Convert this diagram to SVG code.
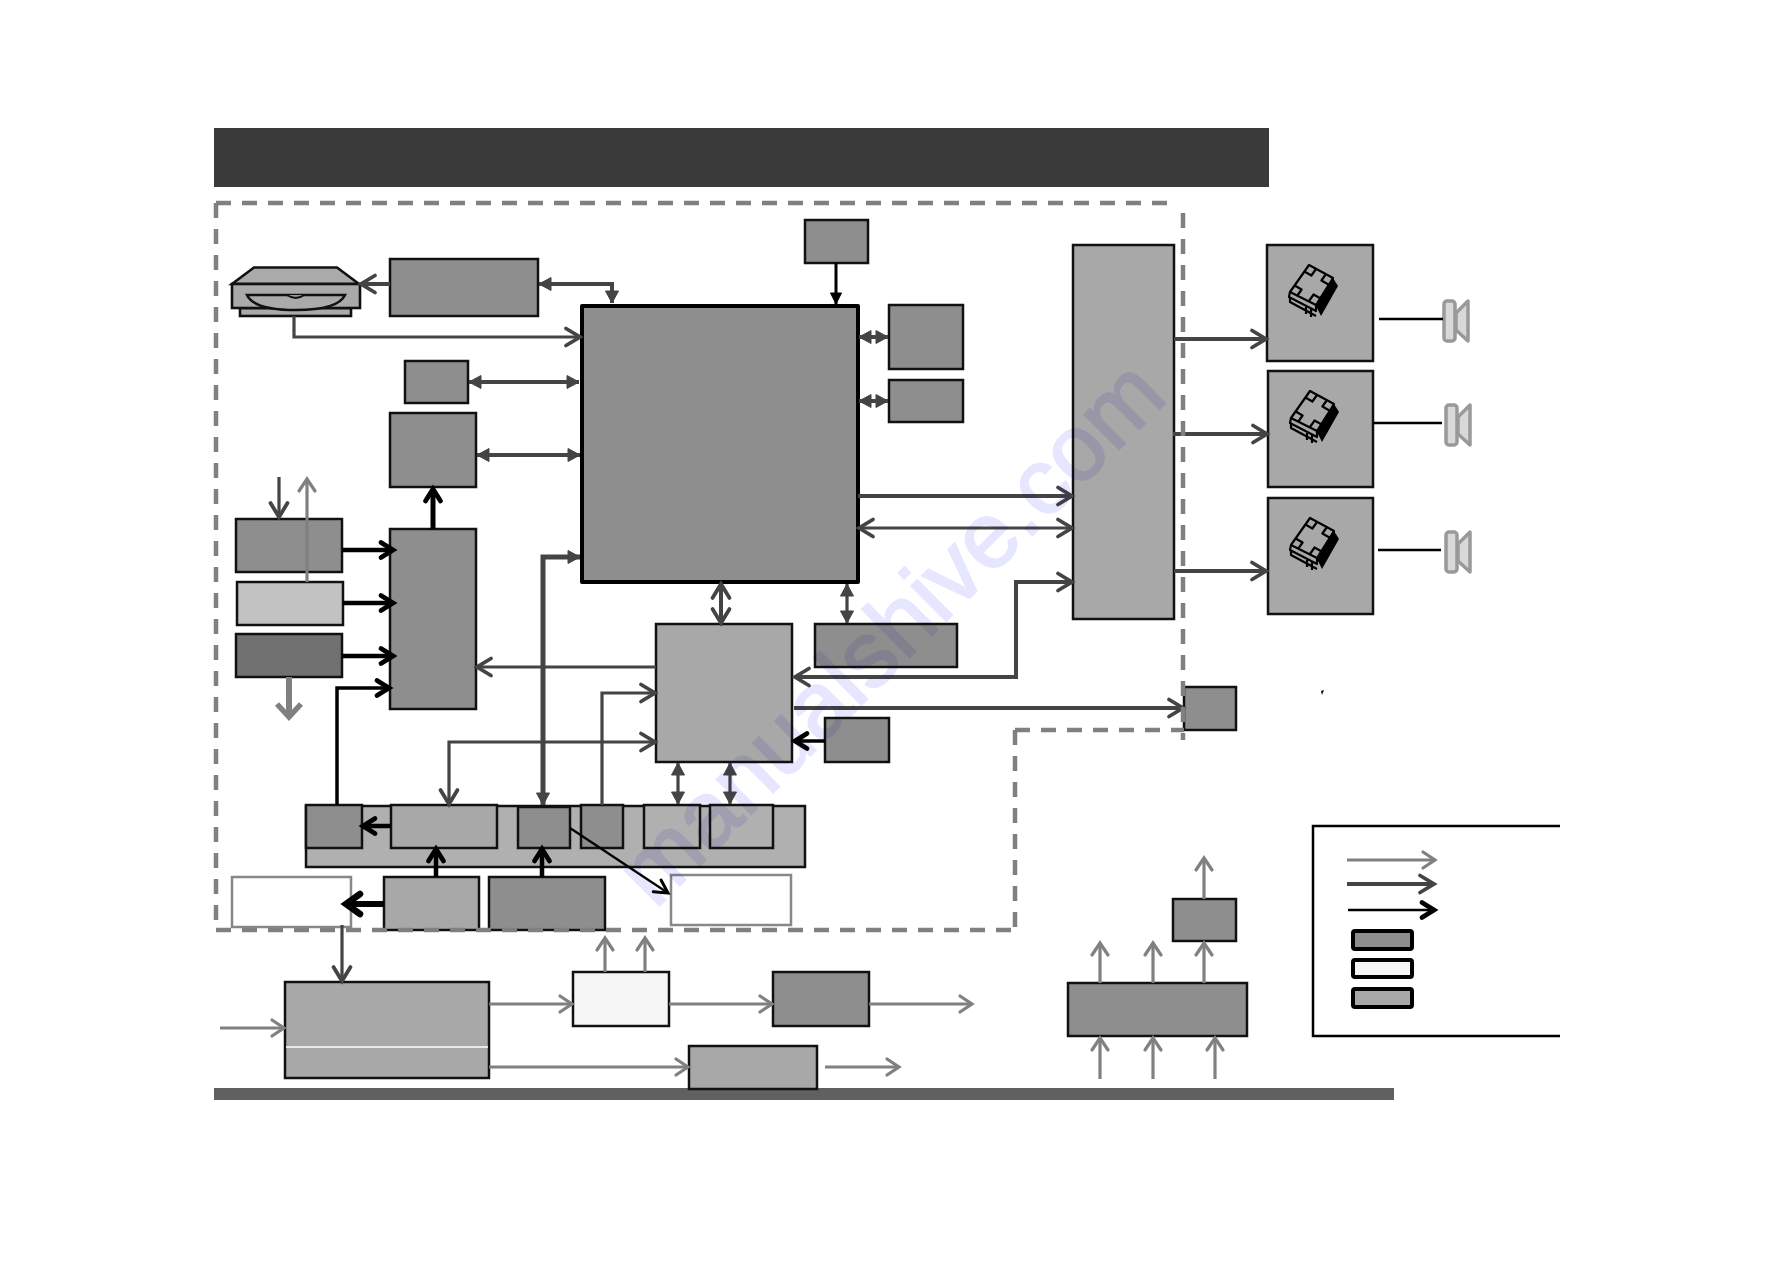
<svg xmlns="http://www.w3.org/2000/svg" xmlns:xlink="http://www.w3.org/1999/xlink" width="1782" height="1263" viewBox="0 0 1782 1263">
<style>
.b{stroke:#111;stroke-width:2.5}
.m{fill:#8e8e8e}.l{fill:#a8a8a8}.s{fill:#b0b0b0}.w{fill:#f6f6f6}.wb{fill:#fff;stroke:#888;stroke-width:2.5}
.c{fill:none;stroke-linejoin:miter}
.g3{stroke:#808080;stroke-width:3.2}
.d3{stroke:#444;stroke-width:3.2}
.d4{stroke:#444;stroke-width:4}
.k3{stroke:#000;stroke-width:2.6}
.k4{stroke:#000;stroke-width:4.5}
.dash{fill:none;stroke:#808080;stroke-width:4.5;stroke-dasharray:15 11}
.ic{fill:none;stroke:#000;stroke-width:2.2;stroke-linejoin:round}
.sp{fill:#d8d8d8;stroke:#999;stroke-width:3.5;stroke-linejoin:round}
.wm{font-family:"Liberation Sans",Arial,sans-serif;font-size:93px;fill:#e6e6ff;stroke:#e6e6ff;stroke-width:2;mix-blend-mode:multiply}
</style>
<defs>
<marker id="og" markerUnits="userSpaceOnUse" markerWidth="30" markerHeight="30" viewBox="-20 -15 30 30" refX="0" refY="0" orient="auto-start-reverse" overflow="visible"><path d="M-12,-8 L0,0 L-12,8" fill="none" stroke="#808080" stroke-width="3.2" stroke-linecap="round"/></marker>
<marker id="od" markerUnits="userSpaceOnUse" markerWidth="30" markerHeight="30" viewBox="-20 -15 30 30" refX="0" refY="0" orient="auto-start-reverse" overflow="visible"><path d="M-14,-8.500 L0,0 L-14,8.500" fill="none" stroke="#444" stroke-width="3.8" stroke-linecap="round"/></marker>
<marker id="ok" markerUnits="userSpaceOnUse" markerWidth="30" markerHeight="30" viewBox="-20 -15 30 30" refX="0" refY="0" orient="auto-start-reverse" overflow="visible"><path d="M-13,-7 L0,0 L-13,7" fill="none" stroke="#000" stroke-width="3" stroke-linecap="round"/></marker>
<marker id="okb" markerUnits="userSpaceOnUse" markerWidth="30" markerHeight="30" viewBox="-20 -15 30 30" refX="0" refY="0" orient="auto-start-reverse" overflow="visible"><path d="M-12,-7.500 L0,0 L-12,7.500" fill="none" stroke="#000" stroke-width="4.8" stroke-linecap="round"/></marker>
<marker id="okx" markerUnits="userSpaceOnUse" markerWidth="40" markerHeight="40" viewBox="-25 -20 40 40" refX="0" refY="0" orient="auto-start-reverse" overflow="visible"><path d="M-14,-10 L0,0 L-14,10" fill="none" stroke="#000" stroke-width="6.500" stroke-linecap="round"/></marker>
<marker id="ogx" markerUnits="userSpaceOnUse" markerWidth="40" markerHeight="40" viewBox="-25 -20 40 40" refX="0" refY="0" orient="auto-start-reverse" overflow="visible"><path d="M-12,-10 L0,3 L12,-10" transform="rotate(-90)" fill="none" stroke="#808080" stroke-width="5.500"/></marker>
<marker id="fd" markerUnits="userSpaceOnUse" markerWidth="30" markerHeight="30" viewBox="-20 -15 30 30" refX="0" refY="0" orient="auto-start-reverse" overflow="visible"><path d="M-12,-6.500 L0,0 L-12,6.500 Z" fill="#444" stroke="#444"/></marker>
<marker id="fk" markerUnits="userSpaceOnUse" markerWidth="30" markerHeight="30" viewBox="-20 -15 30 30" refX="0" refY="0" orient="auto-start-reverse" overflow="visible"><path d="M-11,-5.500 L0,0 L-11,5.500 Z" fill="#000" stroke="#000"/></marker>
<g id="chipicon">
<path d="M1333,278 L1338,286 L1321,316 L1316,306 Z" fill="#000"/>
<path class="ic" d="M1309,265 L1333,278 L1316,305 L1290,292 Z"/>
<path class="ic" d="M1316,269 L1311.400,275.500 L1304.400,271.500 M1326,274 L1321.400,280.500 L1328.400,284.500 M1297,296 L1301.600,289.500 L1294.600,285.500 M1309,301 L1313.600,294.500 L1320.600,298.500"/>
<path class="ic" d="M1290,292 L1289,297 L1316,311 L1316,305 M1290,298 L1290,302 L1316,316 M1306,307 L1306,314 M1311,309 L1311,317"/>
</g>
<g id="speaker">
<rect class="sp" x="1444" y="301" width="11" height="40" rx="3"/>
<path class="sp" d="M1456,313 L1468,301 L1468,341 L1456,330 Z"/>
</g>
</defs>
<rect width="1782" height="1263" fill="#fff"/>
<g id="header"><rect x="214" y="128" width="1055" height="59" fill="#3a3a3a"/></g>
<g id="footer"><rect x="214" y="1088" width="1180" height="12" fill="#606060"/></g>

<g id="disc-drive" fill="#aaa" stroke="#111" stroke-width="2.6">
<path d="M254,267.500 L337,267.500 L359,284 L232,284 Z"/>
<rect x="240" y="308" width="111" height="8"/>
<rect x="232" y="284" width="128" height="24"/>
<path d="M247,295 L345,295 Q338,310 296,310 Q254,310 247,295 Z"/>
<path d="M287,295 Q296,301 304,295" fill="#999" stroke-width="2"/>
</g>
<g id="driver"><rect class="b m" x="390" y="259" width="148" height="57"/></g>
<g id="main-chip"><rect class="m" x="582" y="306" width="276" height="276" stroke="#000" stroke-width="4" stroke-linejoin="round"/></g>
<g id="box-b"><rect class="b m" x="405" y="361" width="63" height="42"/></g>
<g id="box-c"><rect class="b m" x="390" y="413" width="86" height="74"/></g>
<g id="box-d"><rect class="b m" x="390" y="529" width="86" height="180"/></g>
<g id="box-e"><rect class="b m" x="236" y="519" width="106" height="53"/></g>
<g id="box-f"><rect class="b" fill="#c2c2c2" x="237" y="582" width="106" height="43"/></g>
<g id="box-g"><rect class="b" fill="#717171" x="236" y="634" width="106" height="43"/></g>
<g id="box-u"><rect class="b m" x="805" y="220" width="63" height="43"/></g>
<g id="box-v"><rect class="b m" x="889" y="305" width="74" height="64"/></g>
<g id="box-w"><rect class="b m" x="889" y="380" width="74" height="42"/></g>
<g id="box-x"><rect class="b l" x="1073" y="245" width="101" height="374"/></g>
<g id="amp-1"><rect class="b l" x="1267" y="245" width="106" height="116"/><use xlink:href="#chipicon"/></g>
<g id="amp-2"><rect class="b l" x="1268" y="371" width="105" height="116"/><use xlink:href="#chipicon" x="1" y="126"/></g>
<g id="amp-3"><rect class="b l" x="1268" y="498" width="105" height="116"/><use xlink:href="#chipicon" x="1" y="253"/></g>
<g id="speaker-1"><use xlink:href="#speaker"/></g>
<g id="speaker-2"><use xlink:href="#speaker" x="2" y="104"/></g>
<g id="speaker-3"><use xlink:href="#speaker" x="2" y="231"/></g>
<g id="box-p"><rect class="b l" x="656" y="624" width="136" height="138"/></g>
<g id="box-q"><rect class="b m" x="815" y="624" width="142" height="43"/></g>
<g id="box-r"><rect class="b m" x="1184" y="687" width="52" height="43"/></g>
<g id="box-t"><rect class="b m" x="825" y="718" width="64" height="44"/></g>
<g id="strip"><rect class="b s" x="306" y="806" width="499" height="61"/></g>
<g id="s1"><rect class="b m" x="306" y="805" width="56" height="43"/></g>
<g id="s2"><rect class="b l" x="391" y="805" width="106" height="43"/></g>
<g id="s3"><rect class="b m" x="518" y="807" width="52" height="41"/></g>
<g id="s4"><rect class="b m" x="581" y="805" width="42" height="43"/></g>
<g id="s5"><rect class="b s" x="644" y="805" width="56" height="43"/></g>
<g id="s6"><rect class="b s" x="710" y="805" width="63" height="43"/></g>
<g id="box-h"><rect class="b l" x="384" y="877" width="95" height="53"/></g>
<g id="box-i"><rect class="b m" x="489" y="877" width="116" height="53"/></g>
<g id="box-j"><rect class="wb" x="232" y="877" width="119" height="50"/></g>
<g id="box-k"><rect class="wb" x="671" y="875" width="120" height="50"/></g>
<g id="box-l"><rect class="b l" x="285" y="982" width="204" height="96"/><path d="M286,1047 H488" stroke="#fff" stroke-width="1.500"/></g>
<g id="box-m"><rect class="b w" x="573" y="972" width="96" height="54"/></g>
<g id="box-n"><rect class="b m" x="773" y="972" width="96" height="54"/></g>
<g id="box-o"><rect class="b l" x="689" y="1046" width="128" height="43"/></g>
<g id="box-y"><rect class="b m" x="1068" y="983" width="179" height="53"/></g>
<g id="box-z"><rect class="b m" x="1173" y="899" width="63" height="42"/></g>

<g id="connectors" class="c">
<path class="d4" marker-end="url(#od)" d="M390,284 H361"/>
<path class="d4" marker-start="url(#fd)" marker-end="url(#fd)" d="M539,284 H612 V303"/>
<path class="d3" marker-end="url(#od)" d="M294,316 V337 H580"/>
<path class="d4" marker-start="url(#fd)" marker-end="url(#fd)" d="M469,382 H579"/>
<path class="d4" marker-start="url(#fd)" marker-end="url(#fd)" d="M477,455 H580"/>
<path class="k4" style="stroke-width:5" marker-end="url(#okb)" d="M433,529 V489"/>
<path class="k4" marker-end="url(#okb)" d="M342,550 H393"/>
<path class="k4" marker-end="url(#okb)" d="M343,603 H393"/>
<path class="k4" marker-end="url(#okb)" d="M342,656 H393"/>
<path class="k3" style="stroke-width:3.500" marker-end="url(#okb)" d="M337,805 V688 H389"/>
<path class="d3" marker-end="url(#od)" d="M279,477 V517"/>
<path class="g3" marker-end="url(#og)" d="M307,582 V479"/>
<path style="stroke:#808080;stroke-width:6" marker-end="url(#ogx)" d="M289,677 V714"/>
<path class="d4" style="stroke-width:5" marker-start="url(#fd)" marker-end="url(#fd)" d="M580,557 H543 V805"/>
<path class="d4" marker-start="url(#od)" marker-end="url(#od)" d="M721,584 V623"/>
<path class="d3" marker-start="url(#fd)" marker-end="url(#fd)" d="M847,584 V623"/>
<path class="d3" marker-end="url(#od)" d="M656,667 H477"/>
<path class="d4" marker-start="url(#od)" marker-end="url(#od)" d="M795,677 H1016 V582 H1072"/>
<path class="d4" marker-end="url(#od)" d="M794,708 H1183"/>
<path class="k3" style="stroke-width:3.500" marker-end="url(#okb)" d="M825,741 H795"/>
<path class="d3" marker-start="url(#fd)" marker-end="url(#fd)" d="M678,763 V804"/>
<path class="d3" marker-start="url(#fd)" marker-end="url(#fd)" d="M730,763 V804"/>
<path class="d3" marker-end="url(#od)" d="M602,805 V693 H655"/>
<path class="d3" marker-start="url(#od)" marker-end="url(#od)" d="M449,804 V742 H655"/>
<path class="k3" style="stroke-width:3" marker-end="url(#fk)" d="M836,263 V304"/>
<path class="d4" marker-start="url(#fd)" marker-end="url(#fd)" d="M859,337 H888"/>
<path class="d4" marker-start="url(#fd)" marker-end="url(#fd)" d="M859,401 H888"/>
<path class="d4" marker-end="url(#od)" d="M858,496 H1072"/>
<path class="d3" marker-start="url(#od)" marker-end="url(#od)" d="M859,528 H1072"/>
<path class="d4" marker-end="url(#od)" d="M1174,339 H1266"/>
<path class="d4" marker-end="url(#od)" d="M1173,434 H1267"/>
<path class="d4" marker-end="url(#od)" d="M1174,571 H1266"/>
<path class="k3" d="M1379,319 H1443"/>
<path class="k3" d="M1373,423 H1442"/>
<path class="k3" d="M1378,550 H1441"/>
<path class="k4" marker-end="url(#okb)" d="M391,826 H363"/>
<path class="k4" marker-end="url(#okb)" d="M436,877 V849"/>
<path class="k4" marker-end="url(#okb)" d="M542,877 V849"/>
<path style="stroke:#000;stroke-width:6" marker-end="url(#okx)" d="M384,904 H346"/>
<path class="k3" style="stroke-width:2.200" marker-end="url(#ok)" d="M570,828 L668,893"/>
<path class="d3" marker-end="url(#od)" d="M342,925 V981"/>
<path class="g3" marker-end="url(#og)" d="M220,1028 H284"/>
<path class="g3" marker-end="url(#og)" d="M489,1004 H572"/>
<path class="g3" marker-end="url(#og)" d="M605,972 V938"/>
<path class="g3" marker-end="url(#og)" d="M645,972 V938"/>
<path class="g3" marker-end="url(#og)" d="M669,1004 H772"/>
<path class="g3" marker-end="url(#og)" d="M869,1004 H972"/>
<path class="g3" marker-end="url(#og)" d="M489,1067 H688"/>
<path class="g3" marker-end="url(#og)" d="M825,1067 H899"/>
<path class="g3" marker-end="url(#og)" d="M1100,983 V943"/>
<path class="g3" marker-end="url(#og)" d="M1153,983 V943"/>
<path class="g3" marker-end="url(#og)" d="M1204,983 V943"/>
<path class="g3" marker-end="url(#og)" d="M1204,899 V858"/>
<path class="g3" marker-end="url(#og)" d="M1100,1079 V1038"/>
<path class="g3" marker-end="url(#og)" d="M1153,1079 V1038"/>
<path class="g3" marker-end="url(#og)" d="M1215,1079 V1038"/>
</g>

<g id="boundary">
<path class="dash" d="M216,203 H1173"/>
<path class="dash" d="M216,203 V930"/>
<path class="dash" d="M216,930 H1015"/>
<path class="dash" d="M1015,730 V930"/>
<path class="dash" d="M1015,730 H1184"/>
<path class="dash" d="M1183,213 V740"/>
</g>

<g id="legend">
<path d="M1560,826 H1313 V1036 H1560" fill="none" stroke="#000" stroke-width="2.500"/>
<g class="c">
<path class="g3" marker-end="url(#og)" d="M1347,860 H1435"/>
<path class="d4" marker-end="url(#od)" d="M1347,884 H1434"/>
<path class="k3" marker-end="url(#okb)" d="M1348,910 H1434"/>
</g>
<rect class="m" x="1353" y="931" width="59" height="18" rx="2" stroke="#000" stroke-width="4"/>
<rect class="w" x="1353" y="960" width="59" height="17" rx="2" stroke="#000" stroke-width="4"/>
<rect class="l" x="1353" y="989" width="59" height="18" rx="2" stroke="#000" stroke-width="4"/>
</g>
<path id="speck" d="M1321,691 L1324,690 L1322,695 Z" fill="#000"/>
<text class="wm" transform="translate(655,910) rotate(-44.800)" textLength="725" lengthAdjust="spacing">manualshive.com</text>
</svg>
